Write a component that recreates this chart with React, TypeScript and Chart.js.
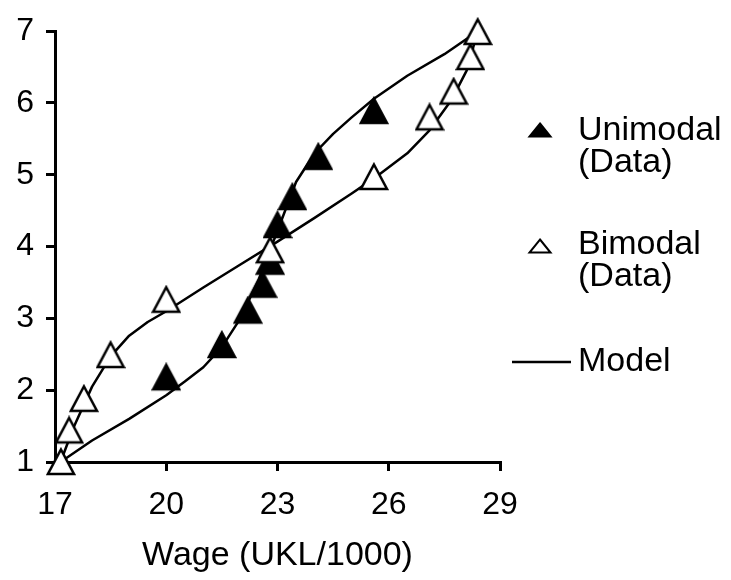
import React, { useEffect, useRef } from "react";
import { Chart, registerables } from "chart.js";

Chart.register(...registerables);

const FONT = "'Liberation Sans', Arial, sans-serif";

// Data
const bimodalX = [17.16, 17.38, 17.78, 18.5, 20.0, 22.8, 25.6, 27.1, 27.75, 28.2, 28.4];
const bimodalY = [1.0, 1.44, 1.88, 2.49, 3.26, 3.95, 4.97, 5.8, 6.16, 6.64, 6.99];
const unimodalX = [20.0, 21.5, 22.2, 22.6, 22.8, 23.0, 23.4, 24.1, 25.6];
const unimodalY = [2.18, 2.63, 3.11, 3.47, 3.79, 4.3, 4.69, 5.25, 5.89];
const uniModelX = [17.15, 18, 19, 20, 20.5, 21, 21.5, 22, 22.5, 23, 23.5, 24, 24.5, 25, 25.6, 26.5, 27.5, 28.4];
const uniModelY = [1.0, 1.3, 1.6, 1.93, 2.12, 2.32, 2.6, 3.0, 3.55, 4.22, 4.9, 5.3, 5.57, 5.8, 6.06, 6.38, 6.68, 7.0];
const biModelX = [17.15, 17.5, 18.0, 18.5, 19.0, 19.5, 20, 21, 22, 23, 24, 25, 25.6, 26.5, 27.1, 27.7, 28.1, 28.4];
const biModelY = [1.0, 1.48, 2.05, 2.47, 2.76, 2.95, 3.1, 3.43, 3.75, 4.07, 4.4, 4.74, 4.95, 5.3, 5.62, 6.05, 6.45, 7.0];
const xTicks = [17, 20, 23, 26, 29];
const yTicks = [1, 2, 3, 4, 5, 6, 7];
const xTitle = "Wage (UKL/1000)";
const legendItems = [
  { kind: "filled", lines: ["Unimodal", "(Data)"] },
  { kind: "open", lines: ["Bimodal", "(Data)"] },
  { kind: "line", lines: ["Model"] },
];

function pts(xs: number[], ys: number[]) {
  return xs.map((x, i) => ({ x, y: ys[i] }));
}

function makeTriangle(filled: boolean) {
  const c = document.createElement("canvas");
  c.width = 30;
  c.height = 30;
  const ctx = c.getContext("2d")!;
  ctx.beginPath();
  ctx.moveTo(15, 2.5);
  ctx.lineTo(28, 27);
  ctx.lineTo(2, 27);
  ctx.closePath();
  ctx.fillStyle = filled ? "#000" : "#fff";
  ctx.fill();
  ctx.lineWidth = 2.5;
  ctx.lineJoin = "miter";
  ctx.strokeStyle = "#000";
  ctx.stroke();
  return c;
}

const legendPlugin = {
  id: "customLegend",
  afterDraw(chart: any) {
    const ctx = chart.ctx as CanvasRenderingContext2D;
    ctx.save();
    ctx.fillStyle = "#000";
    ctx.strokeStyle = "#000";
    ctx.font = `34px ${FONT}`;
    ctx.textBaseline = "middle";
    ctx.textAlign = "left";
    const textX = 578;
    const rows = [
      { mark: 130, text: 131 },
      { mark: 246, text: 245 },
      { mark: 362, text: 362 },
    ];
    const lh = 32;
    legendItems.forEach((item, i) => {
      const r = rows[i];
      if (item.kind === "line") {
        ctx.lineWidth = 2.5;
        ctx.beginPath();
        ctx.moveTo(512, r.mark);
        ctx.lineTo(571, r.mark);
        ctx.stroke();
      } else {
        ctx.beginPath();
        ctx.moveTo(540, r.mark - 6.5);
        ctx.lineTo(550.5, r.mark + 6.5);
        ctx.lineTo(529.5, r.mark + 6.5);
        ctx.closePath();
        ctx.lineWidth = 2;
        if (item.kind === "filled") {
          ctx.fill();
          ctx.stroke();
        } else {
          ctx.fillStyle = "#fff";
          ctx.fill();
          ctx.stroke();
          ctx.fillStyle = "#000";
        }
      }
      item.lines.forEach((t, j) => {
        ctx.fillText(t, textX, r.text + j * lh);
      });
    });
    ctx.restore();
  },
};

export default function App() {
  const ref = useRef<HTMLCanvasElement>(null);
  useEffect(() => {
    document.body.style.margin = "0";
    const openTri = makeTriangle(false);
    const filledTri = makeTriangle(true);
    const lineDs = (xs: number[], ys: number[]) => ({
      label: "Model",
      data: pts(xs, ys),
      showLine: true,
      borderColor: "#000",
      borderWidth: 2.5,
      borderJoinStyle: "round" as const,
      pointRadius: 0,
      tension: 0,
      clip: false as any,
    });
    const chart = new Chart(ref.current!, {
      type: "scatter",
      data: {
        datasets: [
          {
            label: "Bimodal (Data)",
            data: pts(bimodalX, bimodalY),
            pointStyle: openTri as any,
            showLine: false,
            clip: false as any,
          },
          {
            label: "Unimodal (Data)",
            data: pts(unimodalX, unimodalY),
            pointStyle: filledTri as any,
            showLine: false,
            clip: false as any,
          },
          lineDs(uniModelX, uniModelY),
          lineDs(biModelX, biModelY),
        ],
      },
      options: {
        animation: false,
        responsive: false,
        maintainAspectRatio: false,
        layout: { padding: { top: 24, right: 231, left: 0, bottom: 0 } },
        plugins: { legend: { display: false }, tooltip: { enabled: false } },
        scales: {
          x: {
            type: "linear",
            min: 17,
            max: 29,
            afterBuildTicks: (s: any) => {
              s.ticks = xTicks.map((v) => ({ value: v }));
            },
            afterFit: (s: any) => {
              s.height = 118;
            },
            grid: { drawOnChartArea: false, drawTicks: true, tickLength: 9, color: "#000", lineWidth: 3 },
            border: { display: true, color: "#000", width: 3 },
            ticks: { color: "#000", font: { family: FONT, size: 32 }, padding: 15, maxRotation: 0 },
            title: { display: true, text: xTitle, color: "#000", font: { family: FONT, size: 34 }, padding: { top: 0, bottom: 4 } },
          },
          y: {
            type: "linear",
            min: 1,
            max: 7,
            afterBuildTicks: (s: any) => {
              s.ticks = yTicks.map((v) => ({ value: v }));
            },
            afterFit: (s: any) => {
              s.width = 55;
            },
            grid: { drawOnChartArea: false, drawTicks: true, tickLength: 9, color: "#000", lineWidth: 3 },
            border: { display: true, color: "#000", width: 3 },
            ticks: { color: "#000", font: { family: FONT, size: 32 }, padding: 12 },
          },
        },
      },
      plugins: [legendPlugin],
    });
    return () => chart.destroy();
  }, []);
  return <canvas ref={ref} width={731} height={580} style={{ display: "block" }} />;
}
